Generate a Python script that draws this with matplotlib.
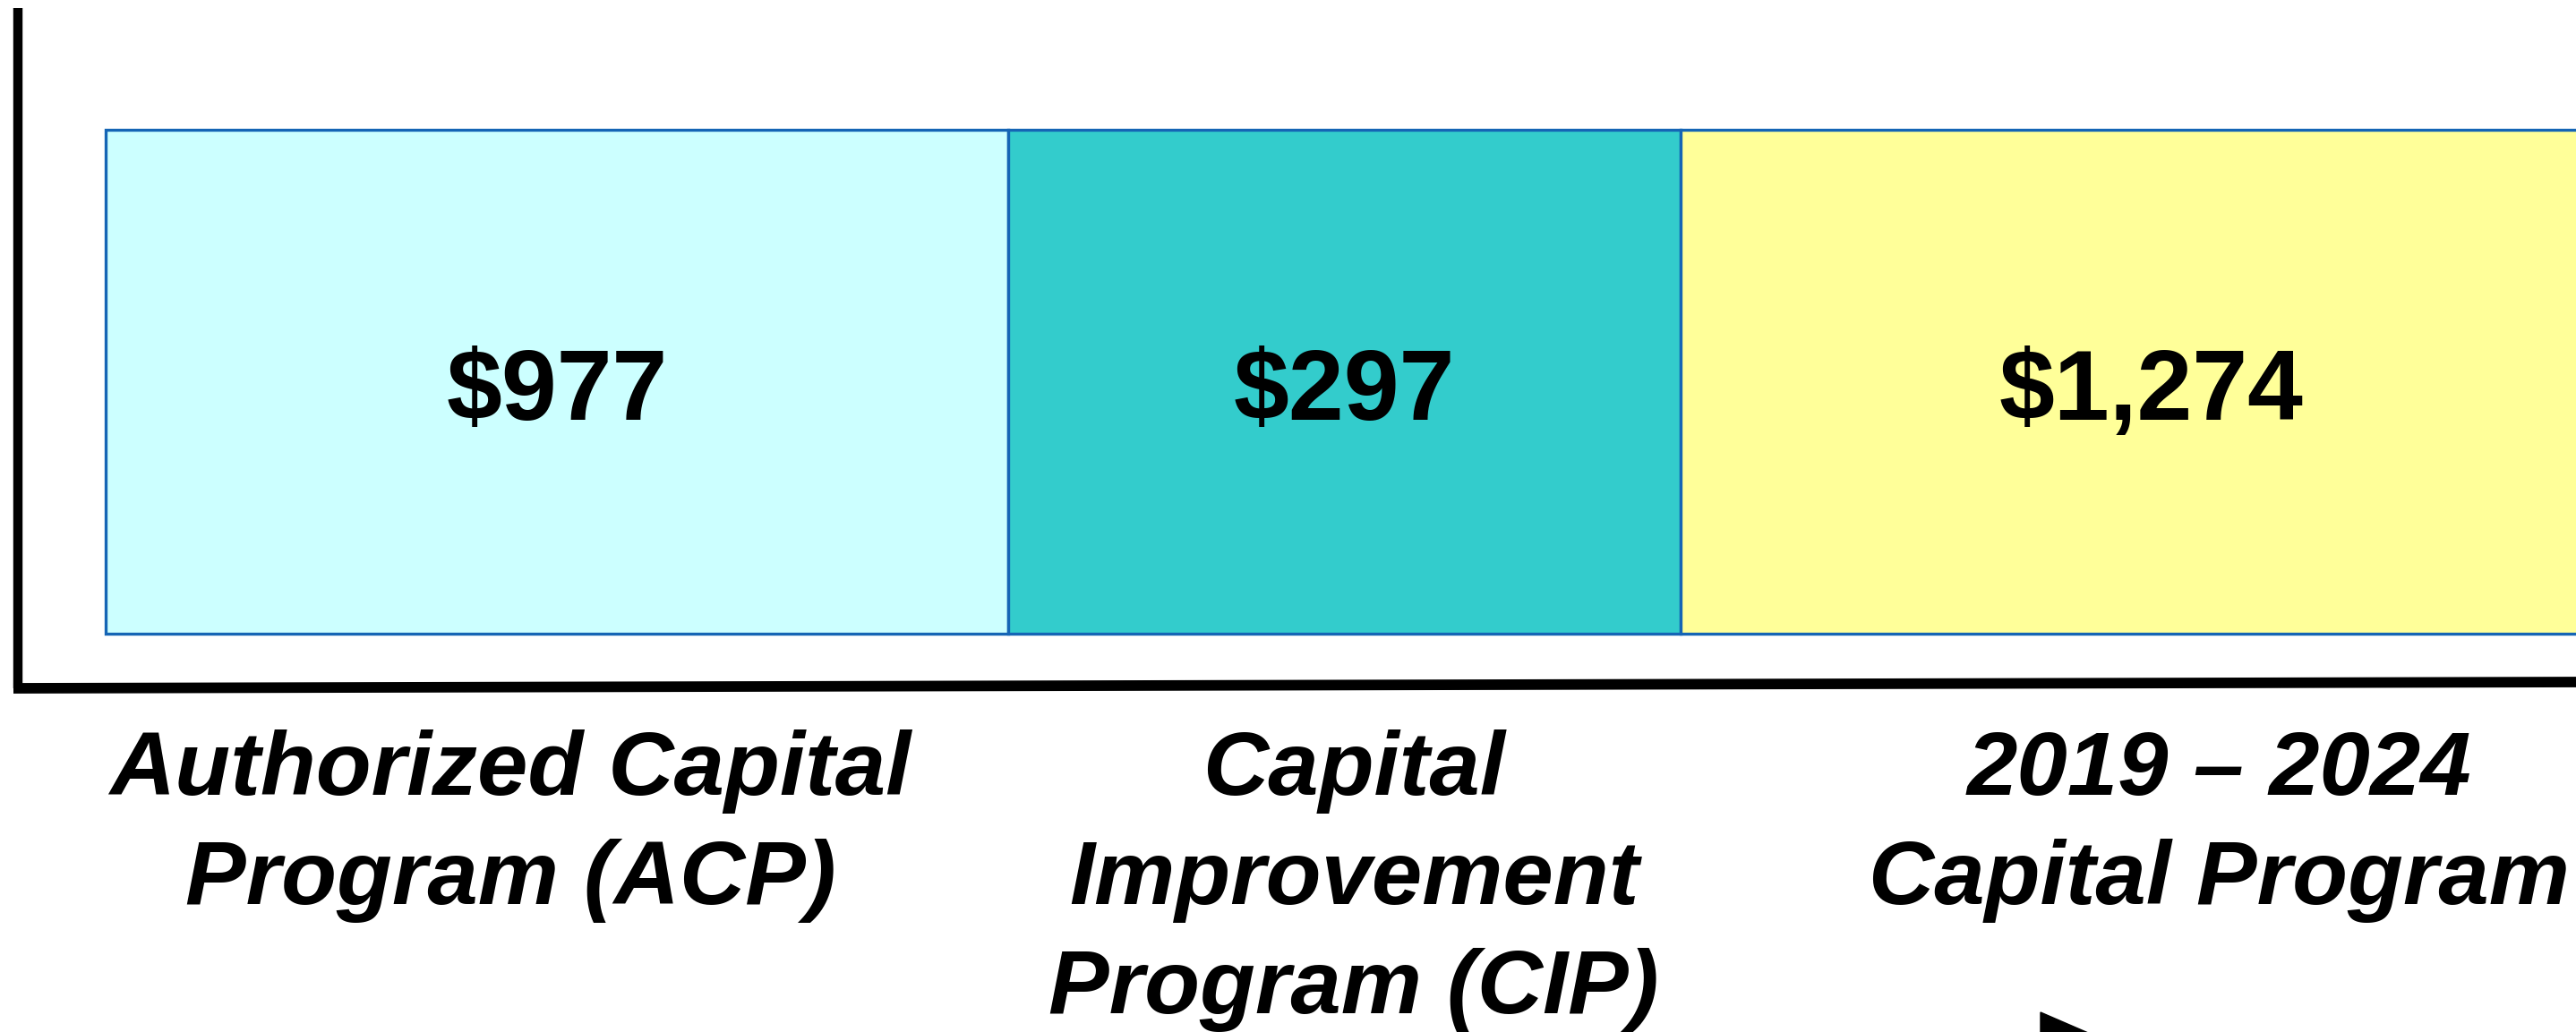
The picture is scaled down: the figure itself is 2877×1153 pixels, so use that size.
import matplotlib.pyplot as plt
from matplotlib.patches import Polygon

plt.rcParams['font.family'] = ['Liberation Sans', 'DejaVu Sans']

# data ($ millions)
programs = ['Authorized Capital\nProgram (ACP)',
            'Capital\nImprovement\nProgram (CIP)',
            '2019 \u2013 2024\nCapital Program']
values = [977, 297, 1274]
colors = ['#CCFFFF', '#33CCCC', '#FFFF99']

# schematic layout (not to scale), in pixel units
seg_left = [118, 1126, 1877]
seg_width = [1008, 751, 1050]
label_x = [570, 1512, 2478]
label_y = [923, 984, 923]

W, H = 2877, 1153
fig = plt.figure(figsize=(W / 100, H / 100), dpi=100)
ax = fig.add_axes([0, 0, 1, 1])
ax.set_xlim(0, W)
ax.set_ylim(H, 0)
ax.axis('off')

ax.barh(426, seg_width, left=seg_left, height=563, color=colors,
        edgecolor='#1565B5', linewidth=2.4, zorder=2)

for left, width, v in zip(seg_left, seg_width, values):
    ax.text(left + width / 2, 440, '${:,}'.format(v), ha='center',
            va='center', fontsize=80, fontweight='bold', zorder=3)

for x, y, name in zip(label_x, label_y, programs):
    ax.text(x, y, name, ha='center', va='center', fontsize=73,
            fontweight='bold', fontstyle='italic', linespacing=1.38)

# axis lines
ax.plot([20, 20], [9, 769], color='black', lw=7.5, solid_capstyle='butt')
ax.plot([15, W], [769, 762], color='black', lw=8.5, solid_capstyle='butt')

# arrow head at the bottom (cut off)
ax.add_patch(Polygon([[2279, 1131], [2279, 1260], [2420, 1192]],
                     closed=True, color='black'))

fig.savefig('out.png', dpi=100)
